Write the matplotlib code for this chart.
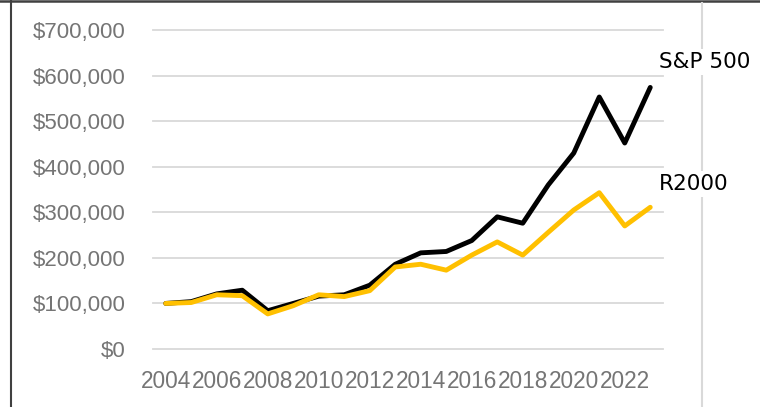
import matplotlib.pyplot as plt
from matplotlib.lines import Line2D
from matplotlib.ticker import FuncFormatter

years = list(range(2004, 2024))
sp500 = [100000, 104000, 121000, 129000, 84000, 100000, 116000, 119000, 140000, 186000,
         211000, 214000, 238000, 290000, 276000, 360000, 430000, 553000, 452000, 574000]
r2000 = [100000, 102000, 119000, 117000, 77000, 95000, 119000, 115000, 128000, 180000,
         186000, 173000, 206000, 235000, 206000, 256000, 305000, 343000, 270000, 311000]
tick_years = [str(y) for y in range(2004, 2023, 2)]

plt.rcParams['font.family'] = ['Liberation Sans', 'DejaVu Sans']

fig = plt.figure(figsize=(7.6, 4.07), dpi=100)
ax = fig.add_axes([153 / 760, 58 / 407, 510 / 760, 319 / 407])

x = list(range(len(years)))
ax.plot(x, sp500, color='black', linewidth=3.5, solid_capstyle='round', solid_joinstyle='round', zorder=3)
ax.plot(x, r2000, color='#FFC000', linewidth=3.5, solid_capstyle='round', solid_joinstyle='round', zorder=4)

ax.set_xlim(-0.5, len(years) - 0.5)
ax.set_ylim(0, 700000)
ax.set_yticks(range(0, 700001, 100000))
ax.yaxis.set_major_formatter(FuncFormatter(lambda v, p: f'${v:,.0f}'))
ax.set_xticks([years.index(int(t)) for t in tick_years])
ax.set_xticklabels(tick_years)

ax.grid(axis='y', color='#D9D9D9', linewidth=1.3)
ax.set_axisbelow(True)
for gl in ax.get_ygridlines():
    gl.set_clip_on(False)
for s in ax.spines.values():
    s.set_visible(False)
ax.tick_params(axis='y', length=0, pad=20, labelsize=16, labelcolor='#757575')
ax.tick_params(axis='x', length=0, pad=15, labelsize=16.3, labelcolor='#757575')

# border and right divider
fig.add_artist(Line2D([11 / 760, 11 / 760], [0, 1], color='#404040', linewidth=1.5))
fig.add_artist(Line2D([0, 1], [1 - 1.2 / 407, 1 - 1.2 / 407], color='#404040', linewidth=1.8))
fig.add_artist(Line2D([702 / 760, 702 / 760], [0, 1 - 3 / 407], color='#D9D9D9', linewidth=1.5))

# series labels
fig.text(659 / 760, 1 - 62 / 407, 'S&P 500', ha='left', va='center', fontsize=15.5,
         family='DejaVu Sans', color='black',
         bbox=dict(facecolor='white', edgecolor='none', pad=2))
fig.text(659 / 760, 1 - 184 / 407, 'R2000', ha='left', va='center', fontsize=15.5,
         family='DejaVu Sans', color='black',
         bbox=dict(facecolor='white', edgecolor='none', pad=2))

fig.savefig('out.png', dpi=100)
